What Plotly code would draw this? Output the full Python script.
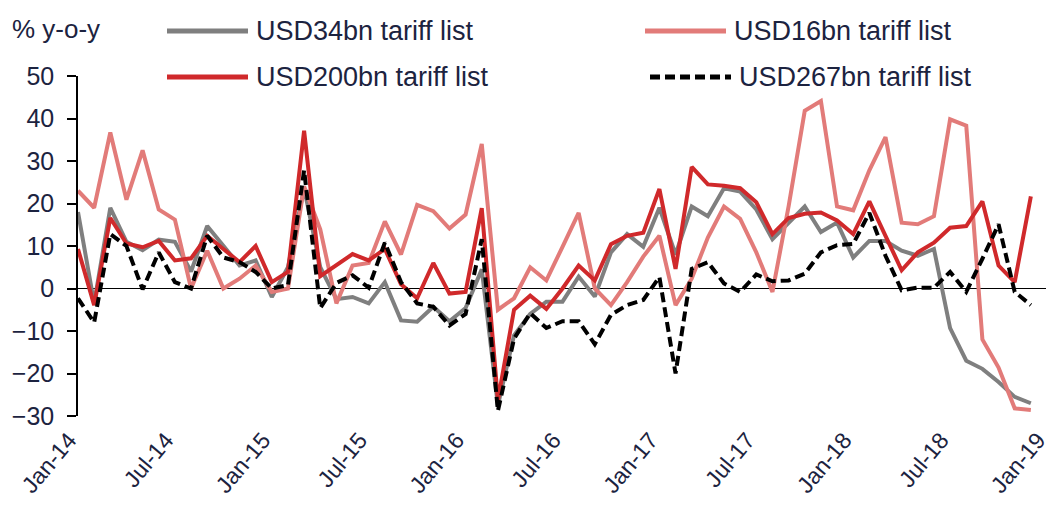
import plotly.graph_objects as go

# ---- data (monthly, Jan-14 .. Dec-18), % y-o-y ----
months = [f"{m}-{y}" for y in range(14, 19) for m in
          ["Jan", "Feb", "Mar", "Apr", "May", "Jun", "Jul", "Aug", "Sep", "Oct", "Nov", "Dec"]]

usd34bn = [18, -3.5, 19, 11, 9, 11.5, 11, 4, 14.7, 10, 5.4, 6.6,
           -2, 5, 23.6, 5, -2.5, -2, -3.5, 1.5, -7.5, -7.8, -4.3, -7.7,
           -4.6, 4.5, -27.5, -11, -6, -3.1, -3.1, 2.8, -1.9, 8.5, 12.8, 9.8,
           19, 8, 19.3, 17, 23.6, 22.8, 18.6, 11.6, 15.5, 19.3, 13.3, 15.5,
           7.3, 11.2, 11.2, 8.9, 7.7, 9.3, -9.3, -17, -18.9, -22, -25.5, -27]

usd16bn = [23, 19, 36.7, 20.9, 32.5, 18.6, 16.2, 0, 8.9, 0, 2.3, 5.4,
           -0.8, 0, 24, 13.9, -3.5, 5.4, 6, 15.8, 8, 19.7, 18.2, 14.1,
           17.4, 34, -5, -2.3, 5, 1.9, 9.8, 17.8, 0, -3.9, 1.5, 7.5,
           12.4, -3.9, 2.3, 12, 19.3, 16.4, 8.5, -0.8, 19.3, 41.8, 44.1, 19.3,
           18.4, 27.8, 35.6, 15.5, 15.1, 17, 39.8, 38.3, -12, -18.6, -28.2, -28.6]

usd200bn = [9.3, -3.9, 16.6, 10.6, 9.7, 11.2, 6.6, 7.1, 12.4, 9.3, 6.2, 10,
            1.5, 3.9, 37.1, 2.9, 5.4, 8.1, 6.6, 9.3, 1, -2.3, 6, -1.2,
            -0.8, 18.9, -26.3, -5, -1.7, -4.8, 0, 5.4, 1.9, 10.4, 12.4, 13.1,
            23.4, 4.6, 28.6, 24.5, 24.2, 23.6, 20.3, 12.8, 16.6, 17.6, 17.9, 16,
            12.8, 20.5, 12.4, 4.3, 8.5, 10.8, 14.3, 14.7, 20.5, 5.4, 1.5, 21.7]

usd267bn = [-2.3, -8, 12.8, 10, -0.2, 8.5, 1.5, 0, 12.4, 7.3, 6.2, 3.9,
            0, 0.8, 27.8, -4.6, 1.3, 3.1, 0.2, 10.8, 1.5, -3.5, -4.3, -8.7,
            -6, 11.6, -28.8, -11.8, -5.8, -9.3, -7.7, -7.7, -13.1, -6.2, -3.9, -2.7,
            2.7, -20, 4.6, 6.2, 1.2, -0.8, 3.3, 1.7, 1.9, 3.5, 8.5, 10.2,
            10.5, 17.8, 7.7, -0.4, 0.2, 0.2, 3.9, -0.8, 7, 15.1, -0.8, -3.9]

tick_labels = ["Jan-14", "Jul-14", "Jan-15", "Jul-15", "Jan-16", "Jul-16",
               "Jan-17", "Jul-17", "Jan-18", "Jul-18", "Jan-19"]
y_ticks = [-30, -20, -10, 0, 10, 20, 30, 40, 50]

series_names = ["USD34bn tariff list", "USD16bn tariff list",
                "USD200bn tariff list", "USD267bn tariff list"]

# ---- styles ----
FONT = "Liberation Sans, Arial, sans-serif"
TXT = "#1c2340"
styles = [
    dict(color="#7f7f7f", width=4, dash="solid"),
    dict(color="#e27b79", width=4, dash="solid"),
    dict(color="#d0292b", width=4, dash="solid"),
    dict(color="#000000", width=4, dash="10px,5px"),
]

x_idx = list(range(len(months)))
fig = go.Figure()
for name, vals, st in zip(series_names, [usd34bn, usd16bn, usd200bn, usd267bn], styles):
    fig.add_trace(go.Scatter(x=x_idx, y=vals, mode="lines", name=name,
                             line=st, customdata=months,
                             hovertemplate="%{customdata}: %{y}<extra>" + name + "</extra>",
                             showlegend=False))

# page shows the figure offset by the default body margin (8px)
OFF = 8
W, H = 1054 - OFF, 510 - OFF
# target screen positions of the plot area
SX0, SX1, SY0, SY1 = 78, 1047, 76, 416.5
L, R, T, B = SX0 - OFF, (W + OFF) - SX1, SY0 - OFF, (H + OFF) - SY1
pw, ph = W - L - R, H - T - B


def px(xs):
    return (xs - SX0) / pw


def py(ys):
    return (SY1 - ys) / ph


# manual legend (2x2) like the reference
legend_items = [
    (0, 167, 248, 31), (1, 645, 726, 31),
    (2, 167, 248, 77), (3, 650, 731, 77),
]
for i, x0, x1, yy in legend_items:
    st = styles[i]
    fig.add_shape(type="line", xref="paper", yref="paper",
                  x0=px(x0), x1=px(x1), y0=py(yy), y1=py(yy),
                  line=dict(color=st["color"], width=5, dash=st["dash"]))
    fig.add_annotation(xref="paper", yref="paper", x=px(x1 + 6), y=py(yy),
                       xanchor="left", yanchor="middle", showarrow=False,
                       text=series_names[i], font=dict(family=FONT, size=27, color=TXT))

fig.add_annotation(xref="paper", yref="paper", x=px(10), y=py(29),
                   xanchor="left", yanchor="middle", showarrow=False,
                   text="% y-o-y", font=dict(family=FONT, size=26, color=TXT))

fig.update_layout(
    width=W, height=H,
    margin=dict(l=L, r=R, t=T, b=B, autoexpand=False),
    paper_bgcolor="white", plot_bgcolor="white",
    font=dict(family=FONT, color=TXT),
    xaxis=dict(range=[0, 60], tickmode="array",
               tickvals=list(range(0, 61, 6)), ticktext=tick_labels,
               tickangle=-50, tickfont=dict(size=23, color=TXT),
               ticklabeloverflow="allow", ticklabelshift=-9, ticklabelstandoff=5,
               showgrid=False, zeroline=False, showline=False, ticks=""),
    yaxis=dict(range=[-30, 50], tickmode="array", tickvals=y_ticks,
               tickfont=dict(size=25, color=TXT), ticklabelstandoff=8,
               showgrid=False, zeroline=True, zerolinecolor="black", zerolinewidth=1,
               showline=True, linecolor="black", linewidth=1.5,
               ticks="outside", ticklen=9, tickwidth=1.5, tickcolor="black"),
)

fig.write_html("out.html")
